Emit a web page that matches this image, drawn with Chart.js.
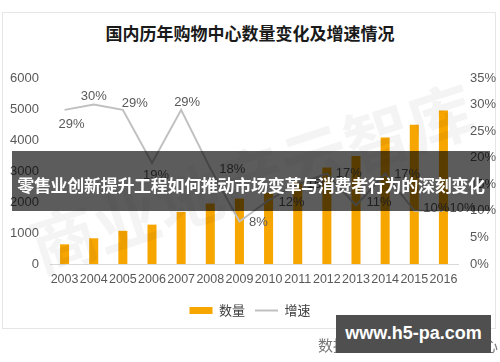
<!DOCTYPE html>
<html>
<head>
<meta charset="utf-8">
<script src="https://cdn.jsdelivr.net/npm/chart.js@4"></script>
<style>
  html, body { margin: 0; padding: 0; background: #fff; }
  #wrap { position: relative; width: 500px; height: 362px; overflow: hidden; font-family: "Noto Sans CJK SC", sans-serif; }
  #card { position: absolute; left: 2px; top: 12px; width: 494px; height: 317px; border: 1px solid #e6e6e6; box-sizing: border-box; }
  #title { position: absolute; left: 0; top: 22px; width: 500px; text-align: center; font-size: 17px; font-weight: bold; color: #1a1a1a; line-height: 22px; }
  #chart { position: absolute; left: 0; top: 0; }
  #mark { position: absolute; left: 20px; top: 140px; width: 460px; text-align: center; font-size: 66px; font-weight: bold; color: rgba(0,0,0,0.045); transform: rotate(-18deg); white-space: nowrap; line-height: 70px; }
  #banner { position: absolute; left: 12px; top: 151px; width: 478px; height: 60px; background: rgba(0,0,0,0.64); color: #fff; font-size: 17px; font-weight: bold; text-align: center; line-height: 68px; white-space: nowrap; letter-spacing: -0.3px; }
  #source { position: absolute; right: 2px; top: 334px; font-size: 15px; color: #777; }
  #site { position: absolute; left: 336px; top: 315px; width: 155px; height: 38px; background: #4f4f4f; color: #fff; font-family: "Liberation Sans", sans-serif; font-weight: bold; font-size: 18px; line-height: 36px; text-align: center; white-space: nowrap; }
</style>
</head>
<body>
<div id="wrap">
  <div id="card"></div>
  <div id="title">国内历年购物中心数量变化及增速情况</div>
  <canvas id="chart" width="500" height="362"></canvas>
  <div id="mark">商业地产云智库</div>
  <div id="banner">零售业创新提升工程如何推动市场变革与消费者行为的深刻变化</div>
  <div id="source">数据来源：赢商大数据中心</div>
  <div id="site">www.h5-pa.com</div>
</div>
<script>
const years = ["2003", "2004", "2005", "2006", "2007", "2008", "2009", "2010", "2011", "2012", "2013", "2014", "2015", "2016"];
const counts = [635, 830, 1070, 1270, 1680, 1950, 2110, 2300, 2650, 3110, 3480, 4080, 4490, 4950];
const growth = [29, 30, 29, 19, 29, 18, 8, 12, 15, 17, 11, 17, 10, 10];
const countTicks = [0, 1000, 2000, 3000, 4000, 5000, 6000];
const growthTicks = [0, 5, 10, 15, 20, 25, 30, 35];

// where each growth label sits relative to its point (dx, dy)
const labelOffsets = [
    [7, 15], [0, -8], [12, -6], [4, 12], [6, -7], [22, 1], [19, 1],
    [23, 2], [22, 0], [22, 0], [23, -3], [22, 1], [22, -2], [19, -2]
];

const tickFont = { family: "'Liberation Sans', sans-serif", size: 13 };
const tickColor = "#595959";

const growthLabels = {
    id: "growthLabels",
    afterDatasetsDraw(chart) {
        const meta = chart.getDatasetMeta(1);
        const ctx = chart.ctx;
        ctx.save();
        ctx.font = "13px 'Liberation Sans', sans-serif";
        ctx.fillStyle = tickColor;
        ctx.textAlign = "center";
        ctx.textBaseline = "middle";
        meta.data.forEach((pt, i) => {
            const off = labelOffsets[i];
            ctx.fillText(growth[i] + "%", pt.x + off[0], pt.y + off[1]);
        });
        ctx.restore();
    }
};

new Chart(document.getElementById("chart"), {
    data: {
        labels: years,
        datasets: [{
            type: "bar",
            label: "数量",
            data: counts,
            yAxisID: "y",
            backgroundColor: "#f7a600",
            borderWidth: 0,
            barPercentage: 0.31,
            categoryPercentage: 1,
            pointStyle: "rect",
            order: 2
        }, {
            type: "line",
            label: "增速",
            data: growth,
            yAxisID: "y1",
            borderColor: "#c0c0c0",
            backgroundColor: "#c0c0c0",
            borderWidth: 2,
            pointRadius: 0,
            pointStyle: "line",
            tension: 0,
            order: 1
        }]
    },
    options: {
        responsive: false,
        animation: false,
        layout: { padding: { top: 78, left: 0, right: 0, bottom: 35 } },
        plugins: {
            tooltip: { enabled: false },
            legend: {
                position: "bottom",
                labels: {
                    usePointStyle: true,
                    pointStyleWidth: 23,
                    boxHeight: 7,
                    padding: 10,
                    color: "#404040",
                    font: { family: "'Noto Sans CJK SC', sans-serif", size: 13 },
                    sort: (a, b) => a.datasetIndex - b.datasetIndex
                }
            }
        },
        scales: {
            x: {
                grid: { display: false, drawTicks: false },
                border: { display: true, color: "#d9d9d9" },
                ticks: { color: tickColor, font: { family: "'Liberation Sans', sans-serif", size: 12.5 }, autoSkip: false, maxRotation: 0, padding: 8 },
                afterFit(scale) { scale.height = 30; }
            },
            y: {
                position: "left",
                min: 0,
                max: 6000,
                afterBuildTicks(scale) { scale.ticks = countTicks.map(v => ({ value: v })); },
                grid: { display: false, drawTicks: false },
                border: { display: false },
                ticks: { color: tickColor, font: tickFont, padding: 11, callback: v => String(v) },
                afterFit(scale) { scale.width = 50; }
            },
            y1: {
                position: "right",
                min: 0,
                max: 35,
                afterBuildTicks(scale) { scale.ticks = growthTicks.map(v => ({ value: v })); },
                grid: { display: false, drawTicks: false },
                border: { display: false },
                ticks: { color: tickColor, font: tickFont, padding: 12, callback: v => v + "%" },
                afterFit(scale) { scale.width = 42; }
            }
        }
    },
    plugins: [growthLabels]
});
</script>
</body>
</html>
